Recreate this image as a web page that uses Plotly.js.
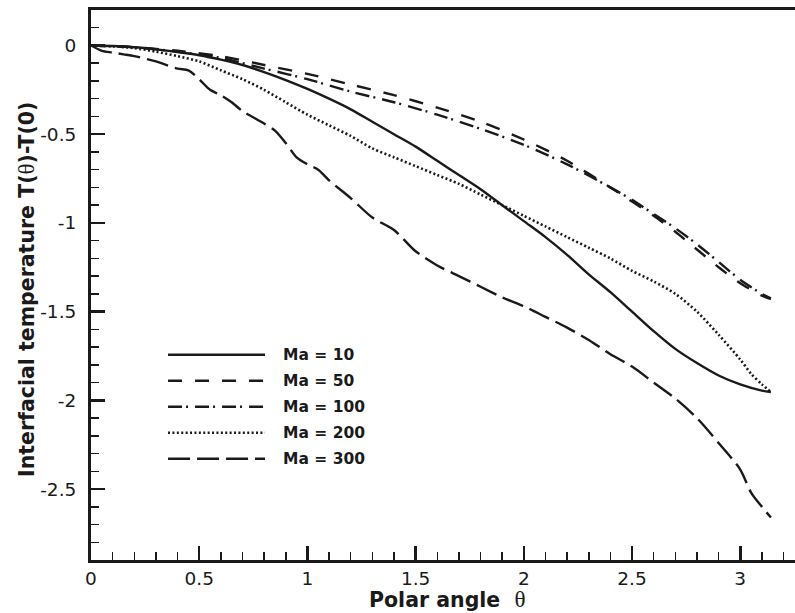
<!DOCTYPE html>
<html>
<head>
<meta charset="utf-8">
<script src="https://cdn.plot.ly/plotly-3.0.1.min.js"></script>
<style>html,body{margin:0;padding:0;background:#fff;}#chart{width:795px;height:613px;}</style>
</head>
<body>
<div id="chart"></div>
<script>
// ---- data ----
const theta10  = [0, 0.1, 0.2, 0.3, 0.4, 0.5, 0.6, 0.7, 0.8, 0.9, 1.0, 1.1, 1.2, 1.3, 1.4, 1.5, 1.6, 1.7, 1.8, 1.9, 2.0, 2.1, 2.2, 2.3, 2.4, 2.5, 2.6, 2.7, 2.8, 2.9, 3.0, 3.1, 3.1416];
const ma10     = [0, -0.003, -0.01, -0.022, -0.037, -0.055, -0.08, -0.11, -0.15, -0.195, -0.245, -0.30, -0.36, -0.43, -0.50, -0.57, -0.65, -0.73, -0.81, -0.90, -0.99, -1.08, -1.18, -1.29, -1.39, -1.50, -1.61, -1.71, -1.79, -1.86, -1.91, -1.945, -1.953];

const theta50  = [0, 0.2, 0.4, 0.6, 0.8, 1.0, 1.2, 1.4, 1.6, 1.8, 2.0, 2.2, 2.4, 2.5, 2.6, 2.7, 2.8, 2.9, 3.0, 3.1, 3.1416];
const ma50     = [0, -0.01, -0.03, -0.06, -0.11, -0.16, -0.22, -0.28, -0.35, -0.43, -0.53, -0.65, -0.80, -0.88, -0.96, -1.05, -1.15, -1.25, -1.34, -1.41, -1.43];

const theta100 = [0, 0.2, 0.4, 0.6, 0.8, 1.0, 1.2, 1.4, 1.6, 1.8, 2.0, 2.2, 2.4, 2.5, 2.6, 2.7, 2.8, 2.9, 3.0, 3.1, 3.1416];
const ma100    = [0, -0.01, -0.035, -0.07, -0.13, -0.19, -0.26, -0.32, -0.39, -0.47, -0.56, -0.67, -0.80, -0.87, -0.95, -1.03, -1.12, -1.22, -1.32, -1.40, -1.425];

const theta200 = [0, 0.1, 0.2, 0.3, 0.4, 0.5, 0.6, 0.7, 0.8, 0.9, 1.0, 1.1, 1.2, 1.3, 1.4, 1.5, 1.6, 1.7, 1.8, 1.9, 2.0, 2.1, 2.2, 2.3, 2.4, 2.5, 2.6, 2.7, 2.8, 2.9, 3.0, 3.05, 3.1, 3.1416];
const ma200    = [0, -0.005, -0.015, -0.035, -0.06, -0.09, -0.14, -0.19, -0.25, -0.32, -0.39, -0.45, -0.51, -0.58, -0.63, -0.68, -0.73, -0.78, -0.84, -0.90, -0.96, -1.02, -1.08, -1.14, -1.20, -1.27, -1.33, -1.40, -1.50, -1.63, -1.77, -1.85, -1.91, -1.953];

const theta300 = [0, 0.05, 0.1, 0.15, 0.2, 0.3, 0.4, 0.45, 0.5, 0.55, 0.6, 0.65, 0.7, 0.8, 0.85, 0.9, 0.95, 1.0, 1.05, 1.1, 1.2, 1.3, 1.4, 1.5, 1.6, 1.7, 1.8, 1.9, 2.0, 2.1, 2.2, 2.3, 2.4, 2.5, 2.6, 2.7, 2.8, 2.9, 3.0, 3.05, 3.1, 3.1416];
const ma300    = [0, -0.03, -0.04, -0.05, -0.06, -0.09, -0.13, -0.14, -0.19, -0.25, -0.28, -0.32, -0.37, -0.44, -0.48, -0.55, -0.63, -0.67, -0.70, -0.76, -0.86, -0.97, -1.04, -1.16, -1.24, -1.30, -1.36, -1.42, -1.47, -1.53, -1.59, -1.66, -1.74, -1.81, -1.90, -1.99, -2.10, -2.24, -2.39, -2.52, -2.60, -2.66];

const seriesNames = ["Ma = 10", "Ma = 50", "Ma = 100", "Ma = 200", "Ma = 300"];
const xTickVals = [0, 0.5, 1, 1.5, 2, 2.5, 3];
const xTickText = ["0", "0.5", "1", "1.5", "2", "2.5", "3"];
const yTickVals = [0, -0.5, -1, -1.5, -2, -2.5];
const yTickText = ["0", "-0.5", "-1", "-1.5", "-2", "-2.5"];

// ---- styles ----
const FONT = "'DejaVu Sans', 'Liberation Sans', Arial, sans-serif";
const THETA = "<span style=\"font-family:'Liberation Serif',serif;font-size:23px\">θ</span>";
const dashes = ["solid", "14px,13px", "14px,4px,2px,7px", "2px,2.4px", "22px,7px"];
const widths = [2.4, 2.4, 2.4, 2.6, 2.4];
const col = "#1a1a1a";
const xs = [theta10, theta50, theta100, theta200, theta300];
const ys = [ma10, ma50, ma100, ma200, ma300];

const traces = xs.map((x, i) => ({
  x: x, y: ys[i], type: "scatter", mode: "lines", name: seriesNames[i],
  line: {color: col, width: widths[i], dash: dashes[i], shape: "spline", smoothing: 0.8},
  showlegend: false, hoverinfo: "skip"
}));

// manual legend (Tecplot style)
const legX0 = 0.356, legX1 = 0.804, legTextX = 0.878, legY0 = -1.743, legDy = 0.1465;
const shapes = [], annotations = [];
seriesNames.forEach((n, i) => {
  const yy = legY0 - i * legDy;
  shapes.push({type: "line", xref: "x", yref: "y", x0: legX0, x1: legX1, y0: yy, y1: yy,
    line: {color: col, width: widths[i], dash: dashes[i]}});
  annotations.push({xref: "x", yref: "y", x: legTextX, y: yy, text: "<b>" + n + "</b>",
    showarrow: false, xanchor: "left", yanchor: "middle",
    font: {family: FONT, size: 15.5, color: col}});
});

// axis titles as annotations (precise placement)
annotations.push({xref: "paper", yref: "paper", x: 0.507, y: 0, yshift: -39, xanchor: "center", yanchor: "middle",
  showarrow: false, text: "<b>Polar angle  </b>" + THETA,
  font: {family: FONT, size: 20.5, color: col}});
annotations.push({xref: "paper", yref: "paper", x: 0, xshift: -64, y: 0.491, xanchor: "center", yanchor: "middle",
  textangle: -90, showarrow: false,
  text: "<b>Interfacial temperature T(</b>" + THETA + "<b>)-T(0)</b>",
  font: {family: FONT, size: 20.5, color: col}});

const axisCommon = {
  showline: true, linecolor: col, linewidth: 3, showgrid: false, zeroline: false,
  ticks: "inside", ticklen: 14, tickwidth: 2.5, tickcolor: col,
  tickfont: {family: FONT, size: 18.5, color: col},
  tickmode: "array"
};

const layout = {
  width: 795, height: 613,
  margin: {l: 91, r: 0, t: 10, b: 53, pad: 0},
  paper_bgcolor: "#fff", plot_bgcolor: "#fff",
  xaxis: Object.assign({}, axisCommon, {
    range: [0, 3.253], tickvals: xTickVals, ticktext: xTickText, mirror: true,
    ticklabelstandoff: 0,
    minor: {dtick: 0.1, tick0: 0, ticks: "inside", ticklen: 8, tickwidth: 1.5, tickcolor: col}
  }),
  yaxis: Object.assign({}, axisCommon, {
    range: [-2.9, 0.2], tickvals: yTickVals, ticktext: yTickText,
    ticklabelstandoff: 8,
    minor: {dtick: 0.1, tick0: 0, ticks: "inside", ticklen: 8, tickwidth: 1.5, tickcolor: col}
  }),
  shapes: shapes, annotations: annotations
};

Plotly.newPlot("chart", traces, layout, {staticPlot: true, displayModeBar: false});
</script>
</body>
</html>
